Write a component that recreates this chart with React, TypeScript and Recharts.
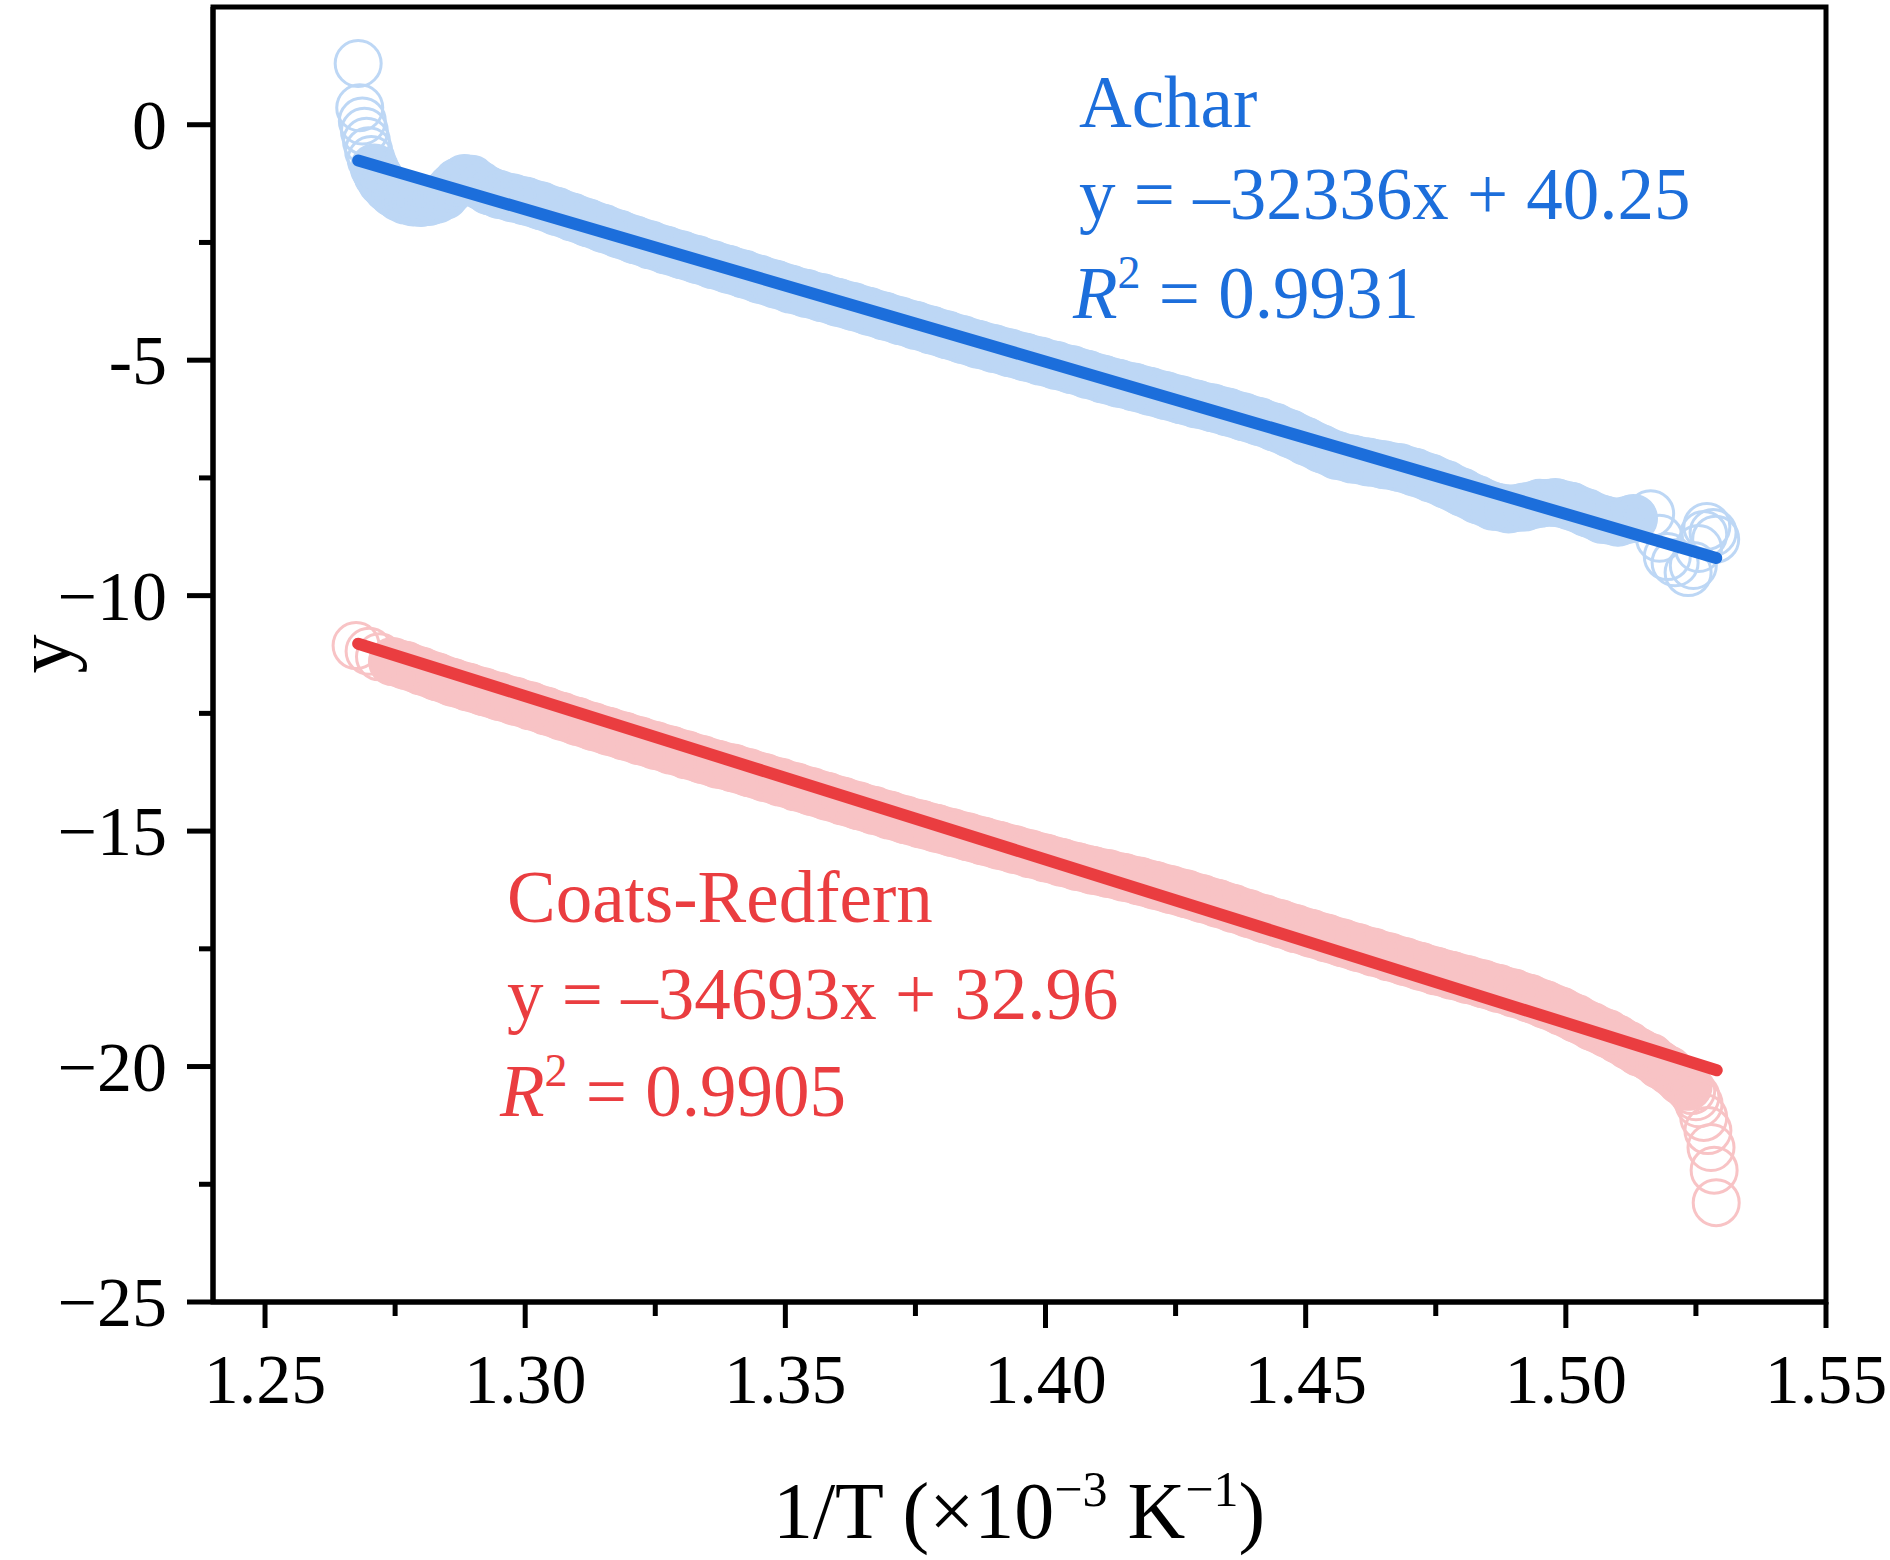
import { ComposedChart, Line, Scatter, XAxis, YAxis, ReferenceArea } from "recharts";

const SERIF = "'Liberation Serif', 'Times New Roman', Times, serif";

// Achar series (x in 10^-3 K^-1)
const acharX = [
  1.2679, 1.2682, 1.2687, 1.2691, 1.2695, 1.2699, 1.2704, 1.271, 1.2717, 1.2725,
  1.2735, 1.2746, 1.2758, 1.277, 1.2785, 1.28, 1.2815, 1.283, 1.2845, 1.2858,
  1.287, 1.2883, 1.2897, 1.2912, 1.293, 1.295, 1.2975, 1.3, 1.303, 1.306,
  1.309, 1.312, 1.315, 1.318, 1.321, 1.324, 1.327, 1.33, 1.333, 1.336,
  1.339, 1.342, 1.345, 1.348, 1.351, 1.354, 1.357, 1.36, 1.363, 1.366,
  1.369, 1.372, 1.375, 1.378, 1.381, 1.384, 1.387, 1.39, 1.393, 1.396,
  1.399, 1.402, 1.405, 1.408, 1.411, 1.414, 1.417, 1.42, 1.423, 1.426,
  1.429, 1.432, 1.435, 1.438, 1.441, 1.444, 1.447, 1.45, 1.453, 1.456,
  1.459, 1.462, 1.465, 1.468, 1.471, 1.474, 1.477, 1.48, 1.483, 1.486,
  1.489, 1.492, 1.495, 1.498, 1.501, 1.504, 1.507, 1.51, 1.513, 1.5163,
  1.518, 1.5195, 1.521, 1.5235, 1.5245, 1.5255, 1.5265, 1.5271, 1.5283, 1.5288,
];
const acharY = [
  1.3, 0.36, 0.08, -0.14, -0.35, -0.55, -0.74, -0.92, -1.08, -1.22,
  -1.34, -1.45, -1.54, -1.6, -1.64, -1.65, -1.63, -1.58, -1.5, -1.35,
  -1.22, -1.14, -1.16, -1.28, -1.4, -1.48, -1.55, -1.62, -1.72, -1.84,
  -1.96, -2.08, -2.2, -2.32, -2.44, -2.55, -2.66, -2.76, -2.86, -2.97,
  -3.07, -3.17, -3.28, -3.38, -3.49, -3.58, -3.67, -3.77, -3.86, -3.96,
  -4.06, -4.16, -4.26, -4.36, -4.46, -4.56, -4.66, -4.75, -4.84, -4.93,
  -5.02, -5.11, -5.2, -5.3, -5.4, -5.49, -5.57, -5.66, -5.75, -5.84,
  -5.93, -6.01, -6.1, -6.2, -6.3, -6.42, -6.56, -6.72, -6.88, -7.02,
  -7.1, -7.16, -7.22, -7.28, -7.38, -7.5, -7.64, -7.8, -7.96, -8.1,
  -8.16, -8.12, -8.04, -8.02, -8.1, -8.24, -8.38, -8.44, -8.36, -8.26,
  -8.78, -9.17, -9.3, -9.51, -9.36, -9.0, -8.7, -8.53, -8.66, -8.8,
];

// Coats-Redfern series
const coatsX = [
  1.2675, 1.27, 1.272, 1.2745, 1.277, 1.28, 1.283, 1.286, 1.289, 1.292,
  1.295, 1.298, 1.301, 1.304, 1.307, 1.31, 1.313, 1.316, 1.319, 1.322,
  1.325, 1.328, 1.331, 1.334, 1.337, 1.34, 1.343, 1.346, 1.349, 1.352,
  1.355, 1.358, 1.361, 1.364, 1.367, 1.37, 1.373, 1.376, 1.379, 1.382,
  1.385, 1.388, 1.391, 1.394, 1.397, 1.4, 1.403, 1.406, 1.409, 1.412,
  1.415, 1.418, 1.421, 1.424, 1.427, 1.43, 1.433, 1.436, 1.439, 1.442,
  1.445, 1.448, 1.451, 1.454, 1.457, 1.46, 1.463, 1.466, 1.469, 1.472,
  1.475, 1.478, 1.481, 1.484, 1.487, 1.49, 1.493, 1.496, 1.499, 1.502,
  1.505, 1.508, 1.51, 1.512, 1.514, 1.5163, 1.518, 1.5198, 1.5221, 1.5235,
  1.5242, 1.525, 1.5256, 1.5265, 1.5273, 1.5279, 1.5285, 1.5289,
];
const coatsY = [
  -11.06, -11.18, -11.3, -11.4, -11.48, -11.6, -11.72, -11.84, -11.94, -12.04,
  -12.14, -12.24, -12.34, -12.45, -12.56, -12.67, -12.78, -12.88, -12.98, -13.08,
  -13.18, -13.28, -13.38, -13.48, -13.58, -13.66, -13.76, -13.86, -13.96, -14.06,
  -14.16, -14.26, -14.36, -14.46, -14.56, -14.66, -14.76, -14.85, -14.94, -15.03,
  -15.12, -15.21, -15.3, -15.39, -15.48, -15.57, -15.66, -15.75, -15.83, -15.9,
  -15.98, -16.06, -16.15, -16.24, -16.33, -16.43, -16.53, -16.64, -16.75, -16.86,
  -16.96, -17.07, -17.17, -17.27, -17.37, -17.47, -17.57, -17.67, -17.77, -17.87,
  -17.97, -18.06, -18.15, -18.24, -18.34, -18.44, -18.55, -18.68, -18.82, -18.98,
  -19.15, -19.3, -19.42, -19.55, -19.69, -19.81, -19.96, -20.08, -20.3, -20.42,
  -20.51, -20.64, -20.79, -21.08, -21.36, -21.72, -22.2, -22.89,
];

// linear fits, end points
const acharFitX = [1.2679, 1.5289];
const acharFitY = [-0.76, -9.2];
const coatsFitX = [1.2679, 1.529];
const coatsFitY = [-11.02, -20.08];

const xMajorTicks = [1.25, 1.3, 1.35, 1.4, 1.45, 1.5, 1.55];
const xMinorTicks = [1.275, 1.325, 1.375, 1.425, 1.475, 1.525];
const yMajorTicks = [-25, -20, -15, -10, -5, 0];
const yMajorLabels = ["\u221225", "\u221220", "\u221215", "\u221210", "-5", "0"];
const yMinorTicks = [-22.5, -17.5, -12.5, -7.5, -2.5];

const toPoints = (xs: number[], ys: number[]) => xs.map((x, i) => ({ x, y: ys[i] }));

const acharPts = toPoints(acharX, acharY);
const coatsPts = toPoints(coatsX, coatsY);
// dense middle stretch, where the open circles merge into a solid band
const acharBand = acharPts.filter((p, i) => i >= 7 && p.x <= 1.5135);
const coatsBand = coatsPts.filter((p, i) => i >= 3 && p.x <= 1.5236);
const acharFit = toPoints(acharFitX, acharFitY);
const coatsFit = toPoints(coatsFitX, coatsFitY);

const BLUE = "#1c6edb";
const BLUE_LIGHT = "#bdd7f5";
const RED = "#ea3d40";
const RED_LIGHT = "#f8c3c5";
const AXIS_W = 5;

const isMajor = (v: number, list: number[]) => list.some((m) => Math.abs(m - v) < 1e-6);

const XTick = (props: any) => {
  const { x, y, payload } = props;
  const major = isMajor(payload.value, xMajorTicks);
  return (
    <g>
      <line x1={x} x2={x} y1={y} y2={y + (major ? 26 : 14)} stroke="#000" strokeWidth={AXIS_W} />
      {major && (
        <text x={x} y={y + 101} textAnchor="middle" fontSize={70} fontFamily={SERIF} fill="#000">
          {payload.value.toFixed(2)}
        </text>
      )}
    </g>
  );
};

const YTick = (props: any) => {
  const { x, y, payload } = props;
  const idx = yMajorTicks.findIndex((m) => Math.abs(m - payload.value) < 1e-6);
  const major = idx >= 0;
  return (
    <g>
      <line x1={x - (major ? 26 : 14)} x2={x} y1={y} y2={y} stroke="#000" strokeWidth={AXIS_W} />
      {major && (
        <text x={x - 46} y={y + 24} textAnchor="end" fontSize={70} fontFamily={SERIF} fill="#000">
          {yMajorLabels[idx]}
        </text>
      )}
    </g>
  );
};

const ring = (color: string) => (p: any) => (
  <circle cx={p.cx} cy={p.cy} r={23} fill="none" stroke={color} strokeWidth={3} />
);

const Annotations = () => (
  <svg
    width={1890}
    height={1560}
    style={{ position: "absolute", left: 0, top: 0, pointerEvents: "none" }}
    fontFamily={SERIF}
  >
    <text x={70} y={654} transform="rotate(-90 70 654)" textAnchor="middle" fontSize={78} fill="#000">
      y
    </text>
    <text x={1019} y={1538} textAnchor="middle" fontSize={80} fill="#000">
      {"1/T (\u00d710"}
      <tspan dy={-32} fontSize={50}>{"\u22123"}</tspan>
      <tspan dy={32}>{" K"}</tspan>
      <tspan dy={-32} fontSize={50}>{"\u22121"}</tspan>
      <tspan dy={32}>{")"}</tspan>
    </text>

    <g fill={BLUE} fontSize={73}>
      <text x={1079} y={127}>Achar</text>
      <text x={1079} y={219}>{"y = \u201332336x + 40.25"}</text>
      <text x={1073} y={318}>
        <tspan fontStyle="italic">R</tspan>
        <tspan dy={-30} fontSize={46}>2</tspan>
        <tspan dy={30}>{" = 0.9931"}</tspan>
      </text>
    </g>
    <g fill={RED} fontSize={73}>
      <text x={507} y={922}>Coats-Redfern</text>
      <text x={507} y={1019}>{"y = \u201334693x + 32.96"}</text>
      <text x={500} y={1116}>
        <tspan fontStyle="italic">R</tspan>
        <tspan dy={-30} fontSize={46}>2</tspan>
        <tspan dy={30}>{" = 0.9905"}</tspan>
      </text>
    </g>
  </svg>
);

export default function App() {
  return (
    <div style={{ position: "absolute", left: 0, top: 0, width: 1890, height: 1560, background: "#fff" }}>
      <ComposedChart width={1890} height={1560} margin={{ top: 7, right: 64, bottom: 0, left: 0 }}>
        <XAxis
          type="number"
          dataKey="x"
          domain={[1.24, 1.55]}
          allowDataOverflow
          ticks={[...xMajorTicks, ...xMinorTicks].sort((a, b) => a - b)}
          interval={0}
          height={258}
          tickSize={0}
          tickMargin={0}
          tickLine={false}
          tick={<XTick />}
          axisLine={{ stroke: "#000", strokeWidth: AXIS_W }}
        />
        <YAxis
          type="number"
          dataKey="y"
          domain={[-25, 2.5]}
          allowDataOverflow
          ticks={[...yMajorTicks, ...yMinorTicks].sort((a, b) => a - b)}
          interval={0}
          width={213}
          tickSize={0}
          tickMargin={0}
          tickLine={false}
          tick={<YTick />}
          axisLine={{ stroke: "#000", strokeWidth: AXIS_W }}
        />
        <ReferenceArea
          x1={1.24}
          x2={1.55}
          y1={-25}
          y2={2.5}
          fill="none"
          fillOpacity={0}
          stroke="#000"
          strokeWidth={AXIS_W}
        />

        <Line
          data={acharBand}
          dataKey="y"
          type="linear"
          stroke={BLUE_LIGHT}
          strokeWidth={48}
          strokeLinecap="round"
          strokeLinejoin="round"
          dot={false}
          activeDot={false}
          isAnimationActive={false}
        />
        <Line
          data={coatsBand}
          dataKey="y"
          type="linear"
          stroke={RED_LIGHT}
          strokeWidth={48}
          strokeLinecap="round"
          strokeLinejoin="round"
          dot={false}
          activeDot={false}
          isAnimationActive={false}
        />
        <Scatter data={acharPts} dataKey="y" shape={ring(BLUE_LIGHT)} isAnimationActive={false} />
        <Scatter data={coatsPts} dataKey="y" shape={ring(RED_LIGHT)} isAnimationActive={false} />
        <Line
          data={acharFit}
          dataKey="y"
          type="linear"
          stroke={BLUE}
          strokeWidth={12}
          strokeLinecap="round"
          dot={false}
          activeDot={false}
          isAnimationActive={false}
          zIndex={700}
        />
        <Line
          data={coatsFit}
          dataKey="y"
          type="linear"
          stroke={RED}
          strokeWidth={12}
          strokeLinecap="round"
          dot={false}
          activeDot={false}
          isAnimationActive={false}
          zIndex={700}
        />
      </ComposedChart>
      <Annotations />
    </div>
  );
}
